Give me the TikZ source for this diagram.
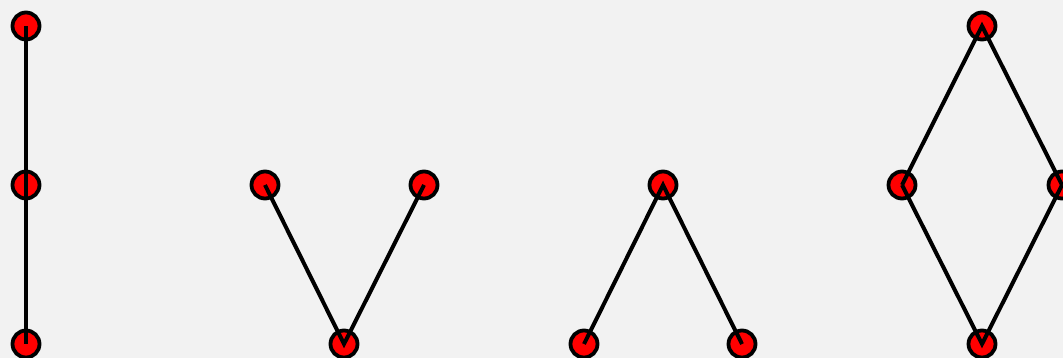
\documentclass[tikz,border=0pt]{standalone}
\definecolor{bg}{HTML}{F2F2F2}
\begin{document}
\begin{tikzpicture}[x=1pt,y=-1pt,
  vtx/.style={circle,fill=red,draw=black,line width=3.8pt,minimum size=27pt,inner sep=0pt},
  edge/.style={line width=4pt,draw=black}]
\fill[bg] (0,0) rectangle (1063,358);
\useasboundingbox (0,0) rectangle (1063,358);
% column 1
\node[vtx] (a1) at (26,26) {};
\node[vtx] (a2) at (26,185) {};
\node[vtx] (a3) at (26,344) {};
% column 2
\node[vtx] (b1) at (265,185) {};
\node[vtx] (b2) at (424,185) {};
\node[vtx] (b3) at (344,344) {};
% column 3
\node[vtx] (c1) at (663,185) {};
\node[vtx] (c2) at (584,344) {};
\node[vtx] (c3) at (742,344) {};
% column 4
\node[vtx] (d1) at (982,26) {};
\node[vtx] (d2) at (902,185) {};
\node[vtx] (d3) at (1062,185) {};
\node[vtx] (d4) at (982,344) {};
% edges
\draw[edge] (a1.center) -- (a2.center) -- (a3.center);
\draw[edge] (b1.center) -- (b3.center) -- (b2.center);
\draw[edge] (c2.center) -- (c1.center) -- (c3.center);
\draw[edge] (d2.center) -- (d1.center) -- (d3.center);
\draw[edge] (d2.center) -- (d4.center) -- (d3.center);
\end{tikzpicture}
\end{document}
